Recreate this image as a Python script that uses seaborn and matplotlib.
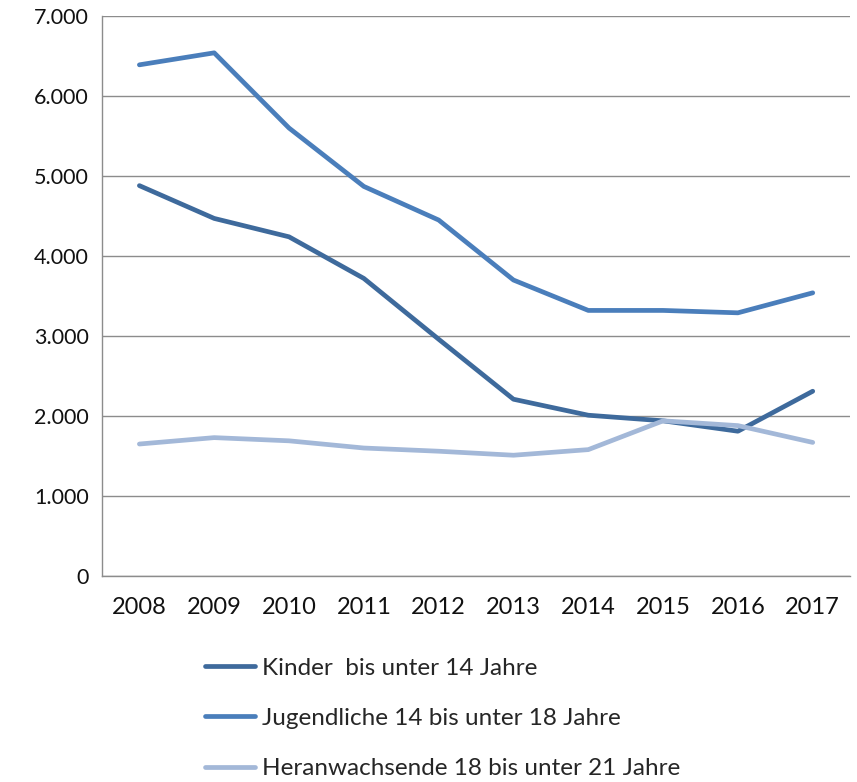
import seaborn as sns
import matplotlib.pyplot as plt
import matplotlib.ticker as mticker
import pandas as pd
import numpy as np

years = ["2008", "2009", "2010", "2011", "2012", "2013", "2014", "2015", "2016", "2017"]
kinder = [4880, 4470, 4240, 3720, 2960, 2210, 2010, 1940, 1810, 2310]
jugendliche = [6390, 6540, 5600, 4870, 4450, 3700, 3320, 3320, 3290, 3540]
heranwachsende = [1650, 1730, 1690, 1600, 1560, 1510, 1580, 1940, 1880, 1670]
labels = ["Kinder  bis unter 14 Jahre",
          "Jugendliche 14 bis unter 18 Jahre",
          "Heranwachsende 18 bis unter 21 Jahre"]
colors = ["#3e6a9c", "#4a7ebb", "#a3b8d8"]

data = pd.DataFrame({
    "Jahr": years * 3,
    "Wert": kinder + jugendliche + heranwachsende,
    "Gruppe": [labels[0]] * 10 + [labels[1]] * 10 + [labels[2]] * 10,
})

sns.set_style("white")
plt.rcParams['font.family'] = ['Lato', 'DejaVu Sans']

fig = plt.figure(figsize=(8.57, 7.82), dpi=100)
ax = fig.add_axes([0.119, 0.2634, 0.873, 0.7161])

sns.lineplot(data=data, x="Jahr", y="Wert", hue="Gruppe", palette=colors,
             linewidth=3.4, ax=ax, legend=False, sort=False)

ax.set_ylim(0, 7000)
ax.set_xlim(-0.5, 9.5)
ax.yaxis.set_major_locator(mticker.MultipleLocator(1000))
ax.yaxis.set_major_formatter(mticker.FuncFormatter(lambda v, p: f"{int(v):,}".replace(",", ".")))
ax.grid(axis="y", color="#8c8c8c", linewidth=1)
ax.set_axisbelow(True)

ax.set_xticks(range(10))
ax.set_xticklabels(years)
ax.set_xticks(np.arange(-0.5, 10, 1), minor=True)
ax.tick_params(axis="x", which="major", length=0, pad=15, labelsize=17, colors="#111111")
ax.tick_params(axis="x", which="minor", length=4.5, width=1, color="#8c8c8c", direction="out")
ax.tick_params(axis="y", length=4.5, width=1, color="#8c8c8c", direction="out", pad=5,
               labelsize=15.5, labelcolor="#111111")
ax.set_xlabel("")
ax.set_ylabel("")

for s in ["top", "right"]:
    ax.spines[s].set_visible(False)
for s in ["left", "bottom"]:
    ax.spines[s].set_color("#8c8c8c")
    ax.spines[s].set_linewidth(1)

handles = [plt.Line2D([], [], color=c, linewidth=3.4) for c in colors]
fig.legend(handles, labels, loc="upper left", bbox_to_anchor=(0.239, 0.159),
           frameon=False, fontsize=17.5, handlelength=2.05, handletextpad=0.3,
           labelspacing=1.2, borderpad=0, borderaxespad=0)

fig.savefig("out.png", dpi=100)
